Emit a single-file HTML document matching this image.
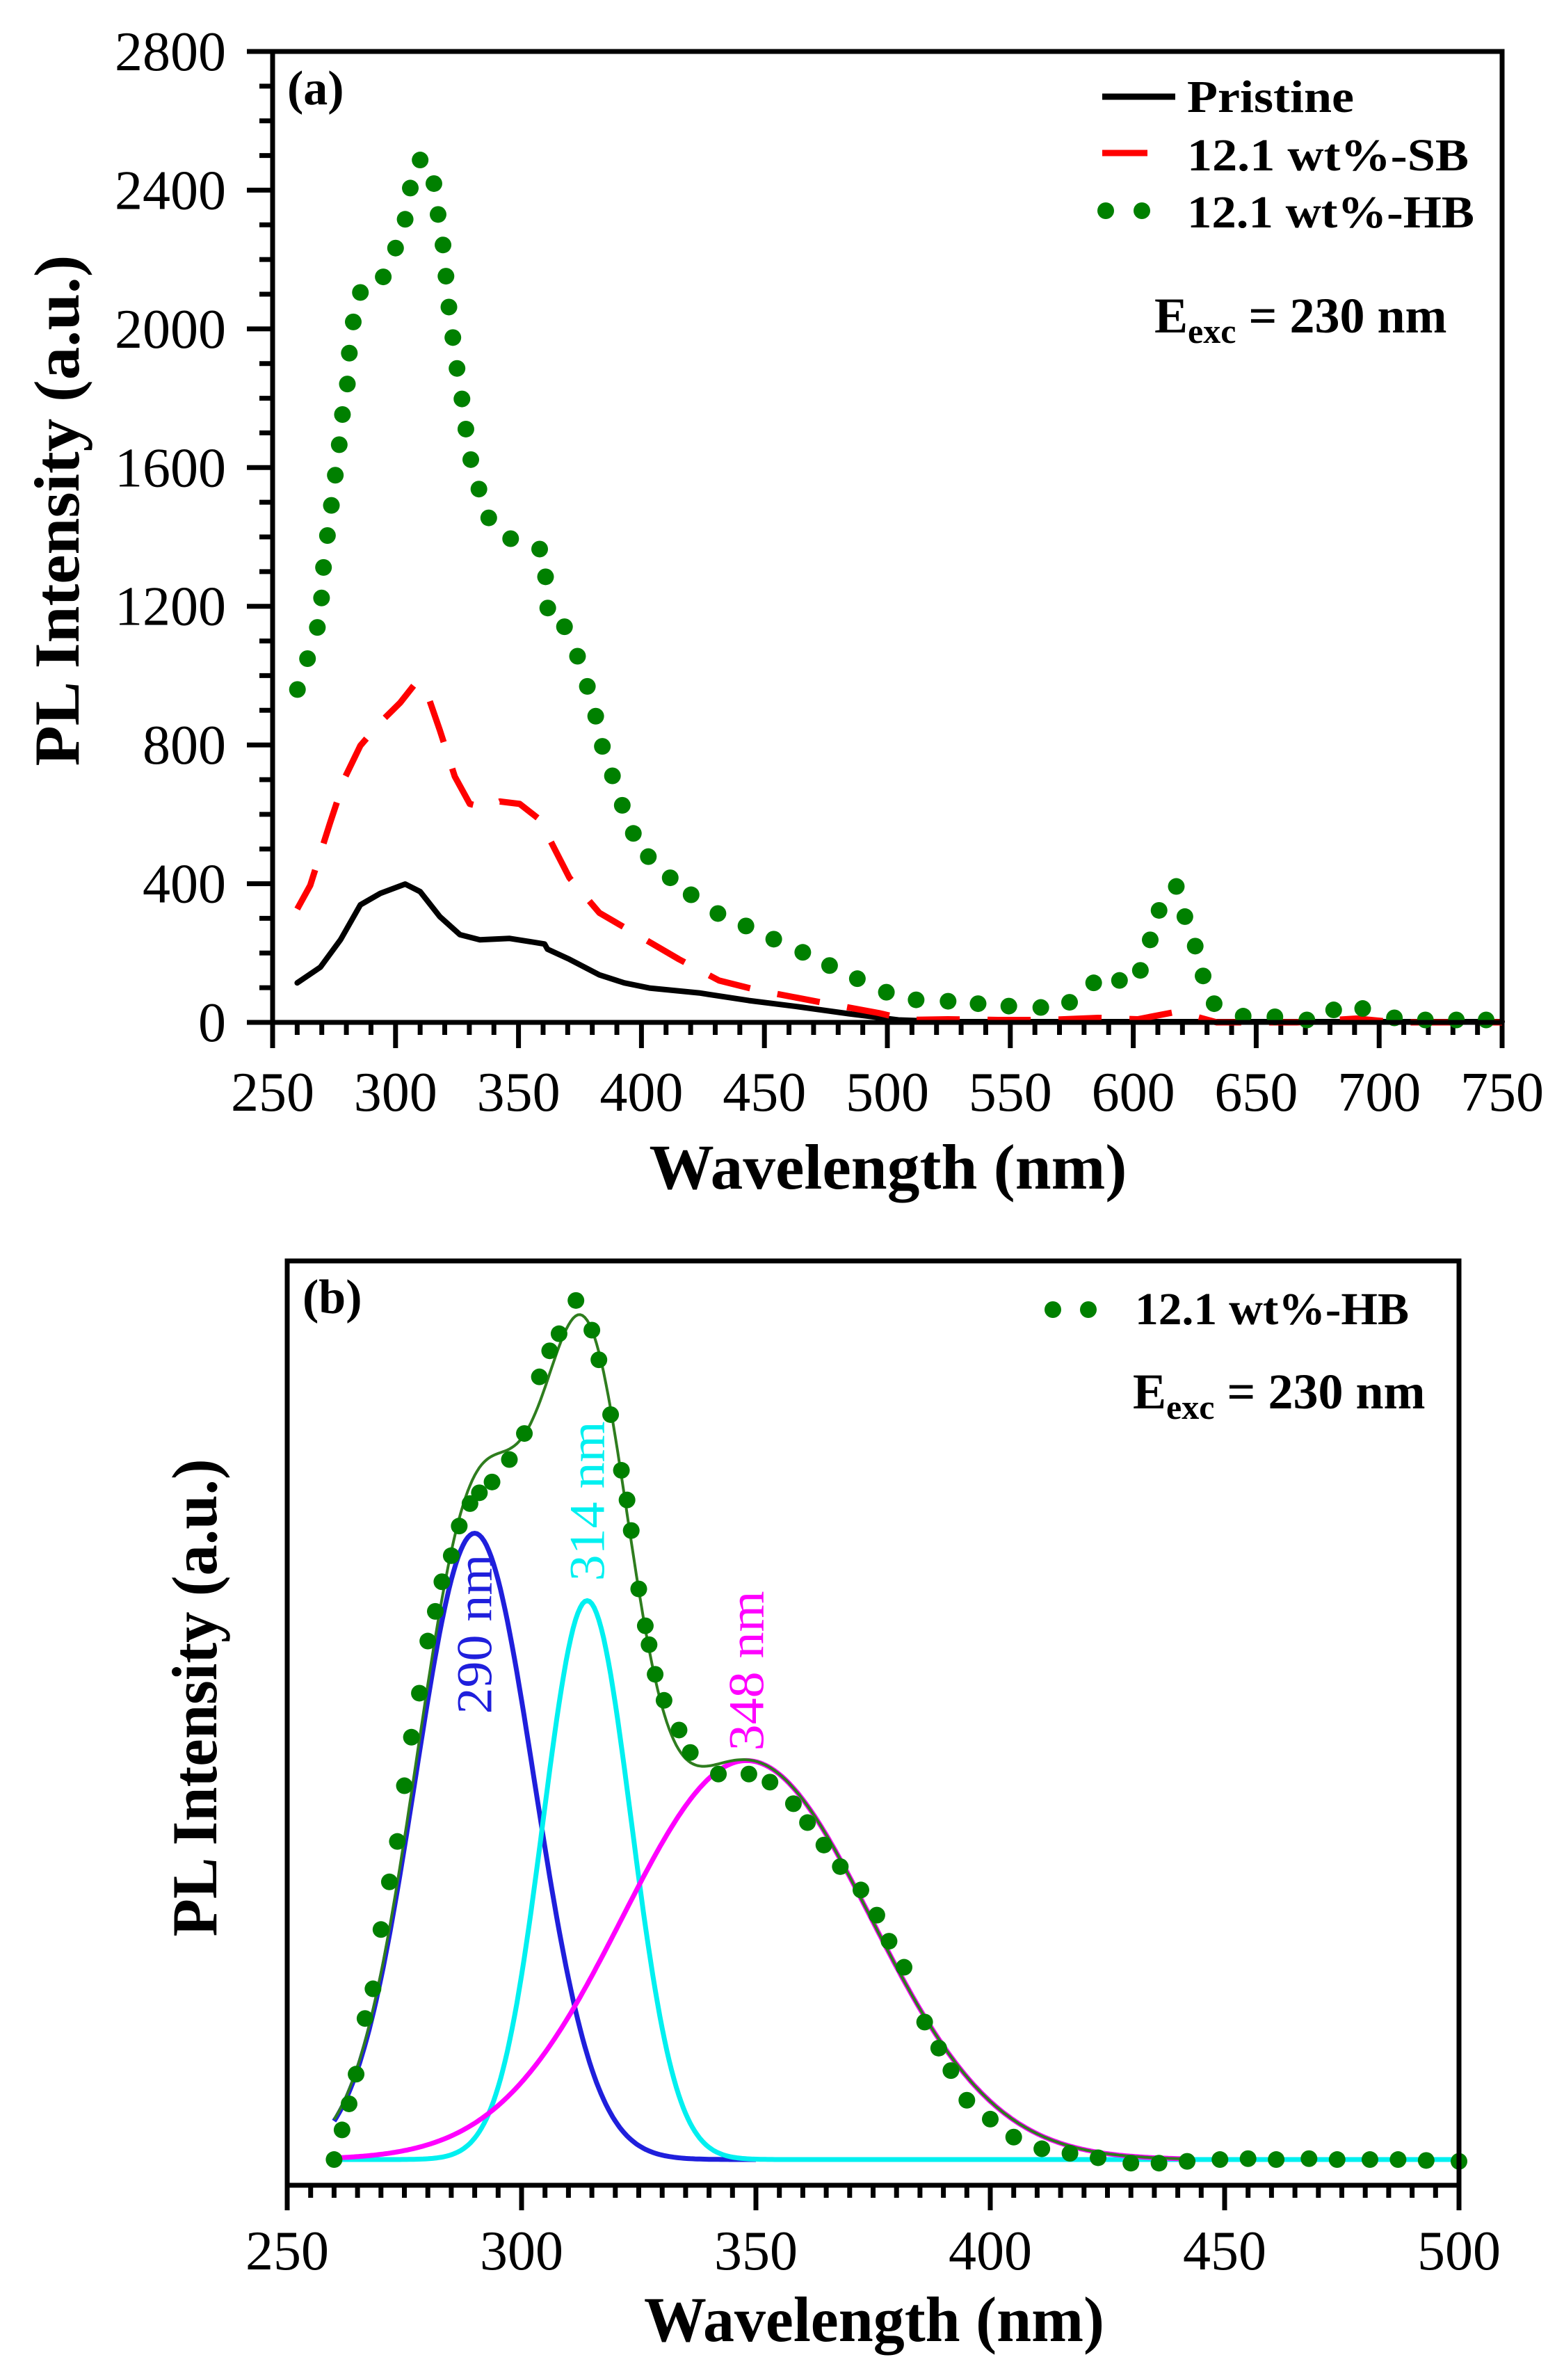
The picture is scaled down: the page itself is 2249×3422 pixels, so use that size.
<!DOCTYPE html>
<html><head><meta charset="utf-8"><title>PL spectra</title>
<style>
html,body{margin:0;padding:0;background:#fff;}
svg{display:block;font-family:"Liberation Serif","DejaVu Serif",serif;}
</style></head>
<body>
<svg id="fig" width="2249" height="3422" viewBox="0 0 2249 3422" xmlns="http://www.w3.org/2000/svg">
<rect x="0" y="0" width="2249" height="3422" fill="#fff"/>
<g id="pa"></g>
<g id="pb"></g>
</svg>
<script>
// ---------- Panel (a) data ----------
const aXTicks = [250,300,350,400,450,500,550,600,650,700,750];
const aYTicks = [0,400,800,1200,1600,2000,2400,2800];
const pristineWl = [260,269.4,277.6,285.7,293.8,303.9,310,318,326.2,334.3,346.4,354.5,360.6,361.8,370.7,382.9,393,403.2,423.4,443.7,464,484.2,504.5,524.7,560,600,650,700,750];
const pristineI  = [114,159,238,339,372,399,377,305,253,238,242,233,226,211,182,137,114,99,85,63,45,25,7,2,2,2,2,2,2];
const sbWl = [260,265.3,273.3,279.6,285.7,293.8,301.9,308,312,318,324.1,330.2,336.3,342.4,350.5,358.6,362.6,370.7,382.9,399.1,415.3,431.5,447.7,464,484.2,496.4,508.6,524.7,545,565,585.7,601.8,618,634,666.5,690.8,707,750];
const sbI  = [327,395,574,709,798,865,922,977,966,843,709,630,619,637,630,585,529,417,316,249,182,121,92,70,43,27,7,9,7,7,13,9,31,0,0,11,0,0];
const hbWl = [260.1,264.2,268.2,269.9,270.7,272.3,273.9,275.5,277.1,278.4,280.4,281.2,282.8,285.7,295,300,303.9,306,310,315.6,317.3,319.3,320.5,321.7,323.3,325,327,328.6,330.6,333.9,337.9,346.8,358.6,361,361.9,368.7,374,378,381.4,384.1,388.2,392.2,396.7,402.8,411.7,420.2,431.1,442.5,453.8,465.6,476.5,487.8,499.6,511.7,524.7,536.9,549.4,562.4,574.1,583.9,594.4,602.9,606.9,610.5,617.5,621,625.2,628.4,632.9,644.7,657.6,670.6,681.5,693.3,706.2,718.8,731.4,743.5];
const hbI  = [960,1049,1139,1224,1312,1404,1491,1578,1666,1753,1841,1930,2020,2105,2150,2233,2316,2406,2487,2419,2330,2242,2152,2063,1975,1886,1798,1711,1623,1538,1455,1395,1365,1285,1195,1141,1056,969,883,796,711,626,545,478,417,368,314,278,240,202,164,126,87,65,61,54,47,43,58,114,121,150,238,323,392,305,220,134,54,18,16,7,36,40,13,7,7,7];

// ---------- Panel (b) data ----------
const bXTicks = [250,300,350,400,450,500];
const peakCenters = [290,314,348];
const peakAmps    = [0.697,0.622,0.444];
const peakSigmas  = [12.7,9.4,26.5];
const peakLabels  = ["290 nm","314 nm","348 nm"];
const peakColors  = ["#1f1fdc","#00f0f0","#ff00ff"];
const peakEnds    = [350,500,442];
const hbBWl = [260,261.7,263.2,264.7,266.6,268.3,270,271.8,273.5,275,276.5,278.2,280,281.6,283,285,286.7,289,291,293.7,297.4,300.6,303.8,306,308,311.6,315,316.5,319,321.3,322.5,323.4,325,326.4,327.2,328.5,330.4,333.6,336,342,348.5,353,358,361,364.5,368,372.4,375.8,378.4,381.6,386,389,391.6,395,400,405,411,417,423,430,436,442,449,455,461,468,474,481,487,493,500];
const hbBI  = [0,0.033,0.062,0.095,0.157,0.19,0.256,0.309,0.354,0.416,0.47,0.519,0.577,0.61,0.643,0.672,0.705,0.73,0.742,0.754,0.779,0.808,0.871,0.9,0.919,0.956,0.923,0.89,0.829,0.767,0.734,0.7,0.635,0.594,0.573,0.54,0.511,0.478,0.453,0.429,0.429,0.42,0.396,0.375,0.35,0.326,0.3,0.272,0.243,0.214,0.153,0.124,0.099,0.066,0.045,0.025,0.012,0.007,0.002,-0.004,-0.004,-0.002,0,0.001,0,0.001,0,0,0,-0.001,-0.002];

const NS = "http://www.w3.org/2000/svg";
function mk(parent, tag, attrs, txt){
  const e = document.createElementNS(NS, tag);
  for (const k in attrs) e.setAttribute(k, attrs[k]);
  if (txt !== undefined) e.textContent = txt;
  parent.appendChild(e);
  return e;
}
const pa = document.getElementById('pa');
const pb = document.getElementById('pb');

const A = {x0:392,x1:2160,y0:74,y1:1470};
const xa = nm => A.x0 + (nm-250)/500*(A.x1-A.x0);
const ya = v => A.y1 - v/2800*(A.y1-A.y0);
const B = {x0:413,x1:2098,y0:1813,y1:3142};
const xb = nm => B.x0 + (nm-250)/250*(B.x1-B.x0);
const yb = v => B.y1 - (v+0.0286)/1.0286*(B.y1-B.y0);

function pathFrom(xs, ys, fx, fy){
  let d = "";
  for (let i=0;i<xs.length;i++) d += (i?"L":"M") + fx(xs[i]).toFixed(1) + "," + fy(ys[i]).toFixed(1);
  return d;
}

// ===== Panel A =====
for (let v=250; v<=750; v+=10){
  const major = (v%50===0);
  const t = mk(pa,'line',{x1:xa(v),x2:xa(v),y1:A.y1,y2:A.y1+(major?37:18),stroke:'#000','stroke-width':7});
  
  
}
for (let v=0; v<=2800; v+=100){
  const major = (v%400===0);
  const t = mk(pa,'line',{x1:A.x0-(major?37:19),x2:A.x0,y1:ya(v),y2:ya(v),stroke:'#000','stroke-width':7});
  
  
}
aXTicks.forEach(v=>{
  const t = mk(pa,'text',{x:xa(v),y:1597,'font-size':80,'text-anchor':'middle'}, String(v));
  
  
});
aYTicks.forEach(v=>{
  const t = mk(pa,'text',{x:325,y:ya(v)+27,'font-size':80,'text-anchor':'end'}, String(v));
  
  
});
const pLine = mk(pa,'path',{d:pathFrom(pristineWl,pristineI,xa,ya),fill:'none',stroke:'#000','stroke-width':8,'stroke-linejoin':'round','stroke-linecap':'round'});


const sLine = mk(pa,'path',{d:pathFrom(sbWl,sbI,xa,ya),fill:'none',stroke:'#ff0000','stroke-width':9,'stroke-dasharray':'62,40','stroke-linejoin':'round'});


hbWl.forEach((w,i)=>{
  const c = mk(pa,'circle',{cx:xa(w),cy:ya(hbI[i]),r:12,fill:'#008000'});
  
  
});
const fa = mk(pa,'rect',{x:A.x0,y:A.y0,width:A.x1-A.x0,height:A.y1-A.y0,fill:'none',stroke:'#000','stroke-width':7});


let t;
t = mk(pa,'text',{x:413,y:150,'font-size':70,'font-weight':'bold'},'(a)');


t = mk(pa,'text',{x:0,y:0,'font-size':92,'font-weight':'bold','text-anchor':'middle',transform:'translate(113,734) rotate(-90)',textLength:735,lengthAdjust:'spacingAndGlyphs'},'PL Intensity (a.u.)');


t = mk(pa,'text',{x:1277,y:1709,'font-size':92,'font-weight':'bold','text-anchor':'middle',textLength:687,lengthAdjust:'spacingAndGlyphs'},'Wavelength (nm)');


const lg = mk(pa,'g',{});


t = mk(lg,'line',{x1:1585,x2:1690,y1:139,y2:139,stroke:'#000','stroke-width':9});


t = mk(lg,'line',{x1:1585,x2:1650,y1:220,y2:220,stroke:'#ff0000','stroke-width':9});


[1590,1642].forEach(x=>{
  const c = mk(lg,'circle',{cx:x,cy:303,r:12,fill:'#008000'});
  
  
});
t = mk(lg,'text',{x:1707,y:161,'font-size':66,'font-weight':'bold',textLength:240,lengthAdjust:'spacingAndGlyphs'},'Pristine');


t = mk(lg,'text',{x:1707,y:245,'font-size':66,'font-weight':'bold',textLength:405,lengthAdjust:'spacingAndGlyphs'},'12.1 wt%-SB');


t = mk(lg,'text',{x:1707,y:327,'font-size':66,'font-weight':'bold',textLength:413,lengthAdjust:'spacingAndGlyphs'},'12.1 wt%-HB');


t = mk(pa,'text',{x:1660,y:478,'font-size':72,'font-weight':'bold'});


mk(t,'tspan',{},'E');
mk(t,'tspan',{dy:15,'font-size':50},'exc');
mk(t,'tspan',{dy:-15},' = 230 nm');

// ===== Panel B =====
for (let v=250; v<=500; v+=5){
  const major = (v%50===0);
  const tk = mk(pb,'line',{x1:xb(v),x2:xb(v),y1:B.y1,y2:B.y1+(major?36:18),stroke:'#000','stroke-width':7});
  
  
}
bXTicks.forEach(v=>{
  const tl = mk(pb,'text',{x:xb(v),y:3263,'font-size':80,'text-anchor':'middle'}, String(v));
  
  
});
function gauss(i, w){ return peakAmps[i]*Math.exp(-Math.pow(w-peakCenters[i],2)/(2*peakSigmas[i]*peakSigmas[i])); }
peakCenters.forEach((c,i)=>{
  const xs=[], ys=[];
  for (let w=260; w<=peakEnds[i]; w+=0.5){ xs.push(w); ys.push(gauss(i,w)); }
  const p = mk(pb,'path',{d:pathFrom(xs,ys,xb,yb),fill:'none',stroke:peakColors[i],'stroke-width':7,'stroke-linejoin':'round'});
  
  
});
{
  const xs=[], ys=[];
  for (let w=260; w<=442; w+=0.5){ xs.push(w); ys.push(gauss(0,w)+gauss(1,w)+gauss(2,w)); }
  const p = mk(pb,'path',{d:pathFrom(xs,ys,xb,yb),fill:'none',stroke:'#2e7d1e','stroke-width':4,'stroke-linejoin':'round'});
  
  
}
hbBWl.forEach((w,i)=>{
  const c = mk(pb,'circle',{cx:xb(w),cy:yb(hbBI[i]),r:12,fill:'#008000'});
  
  
});
peakCenters.forEach((c,i)=>{
  const top = yb(peakAmps[i]);
  const lx = xb(c)+24, ly = top + (i===1? -28 : (i===0? 260 : -14));
  const tl = mk(pb,'text',{x:0,y:0,'font-size':72,fill:peakColors[i],transform:'translate('+lx+','+ly+') rotate(-90)',textLength:230,lengthAdjust:'spacingAndGlyphs'}, peakLabels[i]);
  
  
});
const fb = mk(pb,'rect',{x:B.x0,y:B.y0,width:B.x1-B.x0,height:B.y1-B.y0,fill:'none',stroke:'#000','stroke-width':7});


t = mk(pb,'text',{x:435,y:1888,'font-size':70,'font-weight':'bold'},'(b)');


t = mk(pb,'text',{x:0,y:0,'font-size':92,'font-weight':'bold','text-anchor':'middle',transform:'translate(311,2441) rotate(-90)',textLength:687,lengthAdjust:'spacingAndGlyphs'},'PL Intensity (a.u.)');


t = mk(pb,'text',{x:1257,y:3366,'font-size':92,'font-weight':'bold','text-anchor':'middle',textLength:662,lengthAdjust:'spacingAndGlyphs'},'Wavelength (nm)');


const lgb = mk(pb,'g',{});


[1514,1565].forEach(x=>{
  const c = mk(lgb,'circle',{cx:x,cy:1883,r:12,fill:'#008000'});
  
  
});
t = mk(lgb,'text',{x:1632,y:1904,'font-size':66,'font-weight':'bold',textLength:394,lengthAdjust:'spacingAndGlyphs'},'12.1 wt%-HB');


t = mk(pb,'text',{x:1629,y:2025,'font-size':72,'font-weight':'bold'});


mk(t,'tspan',{},'E');
mk(t,'tspan',{dy:15,'font-size':50},'exc');
mk(t,'tspan',{dy:-15},' = 230 nm');
</script>
</body></html>
